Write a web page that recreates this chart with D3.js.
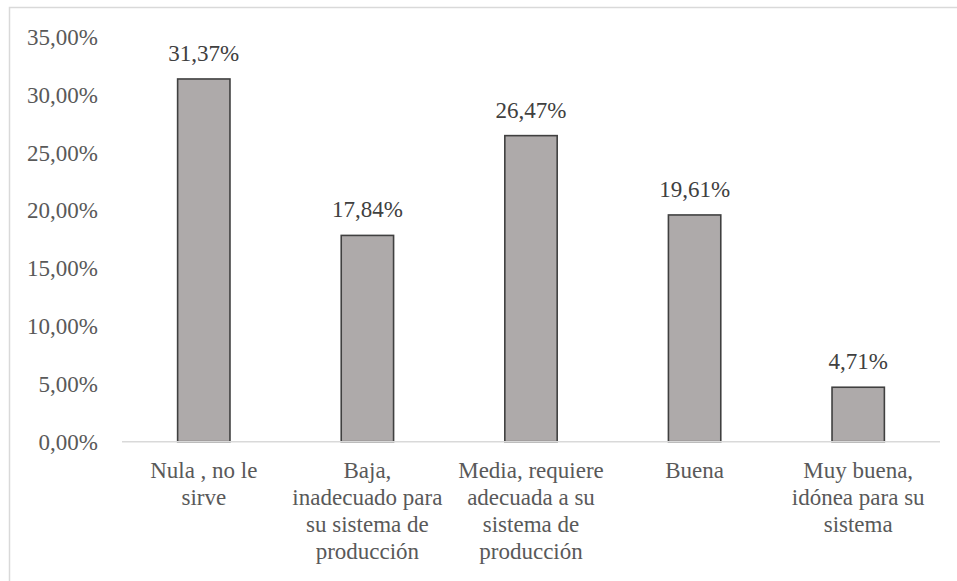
<!DOCTYPE html>
<html>
<head>
<meta charset="utf-8">
<script src="https://cdn.jsdelivr.net/npm/d3@7/dist/d3.min.js"></script>
<style>
  html, body { margin: 0; padding: 0; background: #fff; }
  svg { display: block; }
</style>
</head>
<body>
<svg id="chart" width="957" height="581" font-family="Liberation Serif"></svg>
<script>
// Categories (each entry is the wrapped label lines) and their percentages
const categories = [
  ["Nula , no le", "sirve"],
  ["Baja,", "inadecuado para", "su sistema de", "producción"],
  ["Media, requiere", "adecuada a su", "sistema de", "producción"],
  ["Buena"],
  ["Muy buena,", "idónea para su", "sistema"]
];
const values = [31.37, 17.84, 26.47, 19.61, 4.71];
const yTicks = [0, 5, 10, 15, 20, 25, 30, 35];

const fmt = v => v.toFixed(2).replace(".", ",") + "%";

const svg = d3.select("#chart");
const W = 957, H = 581;
const FONT = "Liberation Serif";
const FS = 23;

// Outer frame of the chart area
svg.append("rect")
  .attr("x", 9.5).attr("y", 7.5)
  .attr("width", W).attr("height", H)
  .attr("fill", "#fff")
  .attr("stroke", "#d9d9d9").attr("stroke-width", 1.5);

const plot = { left: 122, right: 940, top: 37, bottom: 441.7 };

const x = d3.scaleBand()
  .domain(d3.range(categories.length))
  .range([plot.left, plot.right])
  .paddingInner(0.68).paddingOuter(0.34);

const y = d3.scaleLinear()
  .domain([0, 35])
  .range([plot.bottom, plot.top]);

// Y axis labels (no axis line, no ticks)
const yAxis = svg.append("g")
  .attr("transform", `translate(${plot.left - 24},0)`)
  .call(d3.axisLeft(y).tickValues(yTicks).tickFormat(d => fmt(d)).tickSize(0).tickPadding(0));
yAxis.attr("font-family", FONT).attr("font-size", FS);
yAxis.select(".domain").remove();
yAxis.selectAll("text")
  .attr("fill", "#595959")
  .attr("dy", "0.32em");

// Bars
svg.append("g").selectAll("rect")
  .data(values)
  .join("rect")
  .attr("x", (d, i) => x(i))
  .attr("y", d => y(d))
  .attr("width", x.bandwidth())
  .attr("height", d => y(0) - y(d))
  .attr("fill", "#aeaaaa")
  .attr("stroke", "#404040")
  .attr("stroke-width", 1.6);

// Baseline
svg.append("line")
  .attr("x1", plot.left).attr("x2", plot.right)
  .attr("y1", y(0)).attr("y2", y(0))
  .attr("stroke", "#d9d9d9").attr("stroke-width", 1.5);

// Value labels above bars
svg.append("g").selectAll("text")
  .data(values)
  .join("text")
  .attr("x", (d, i) => x(i) + x.bandwidth() / 2)
  .attr("y", d => y(d) - 18)
  .attr("text-anchor", "middle")
  .attr("font-family", FONT)
  .attr("font-size", FS)
  .attr("fill", "#404040")
  .text(d => fmt(d));

// Category labels, wrapped over several lines
const cat = svg.append("g").selectAll("text")
  .data(categories)
  .join("text")
  .attr("text-anchor", "middle")
  .attr("font-family", FONT)
  .attr("font-size", FS)
  .attr("fill", "#595959");
cat.selectAll("tspan")
  .data((d, i) => d.map(line => ({ line, i })))
  .join("tspan")
  .attr("x", d => x(d.i) + x.bandwidth() / 2)
  .attr("y", (d, j) => 477.5 + j * 27)
  .text(d => d.line);
</script>
</body>
</html>
